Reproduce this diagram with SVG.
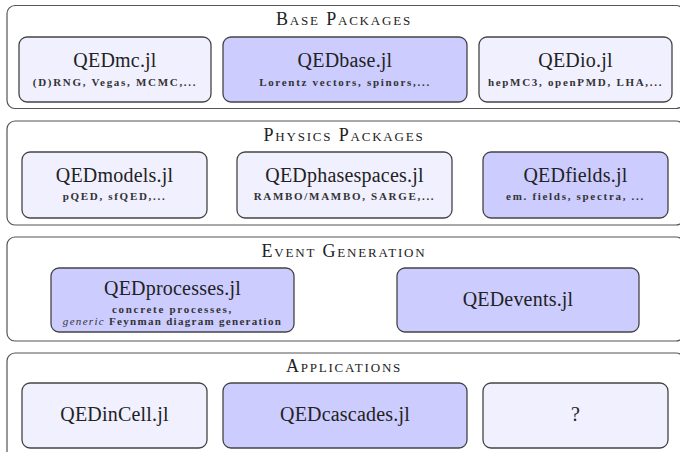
<svg xmlns="http://www.w3.org/2000/svg" width="680" height="452" viewBox="0 0 680 452">
<style>
.panel{fill:#ffffff;stroke:#555555;stroke-width:1.2}
.light{fill:#f0f0ff;stroke:#444444;stroke-width:1.3}
.dark{fill:#ccccff;stroke:#444444;stroke-width:1.3}
.head{font-family:"Liberation Serif",serif;font-size:18px;font-variant:small-caps;letter-spacing:1.8px;fill:#222;text-anchor:middle}
.name{font-family:"Liberation Serif",serif;font-size:20px;letter-spacing:0.2px;fill:#222;text-anchor:middle}
.sub{font-family:"Liberation Serif",serif;font-size:11px;font-weight:bold;letter-spacing:1.7px;fill:#333;text-anchor:middle}
</style>
<rect width="680" height="452" fill="#ffffff"/>
<g id="panel-base">
<rect class="panel" x="7" y="5.5" width="677" height="103" rx="8"/>
<text class="head" x="344" y="25">Base Packages</text>
</g>
<g id="panel-physics">
<rect class="panel" x="7" y="121" width="677" height="104" rx="8"/>
<text class="head" x="344" y="141">Physics Packages</text>
</g>
<g id="panel-event">
<rect class="panel" x="7" y="237" width="677" height="104" rx="8"/>
<text class="head" x="344" y="257">Event Generation</text>
</g>
<g id="panel-apps">
<rect class="panel" x="7" y="353" width="677" height="115" rx="8"/>
<text class="head" x="344" y="372">Applications</text>
</g>
<g id="QEDmc">
<rect class="light" x="19" y="37" width="192" height="65" rx="8"/>
<text class="name" x="115" y="67">QEDmc.jl</text>
<text class="sub" x="115" y="86">(D)RNG, Vegas, MCMC,...</text>
</g>
<g id="QEDbase">
<rect class="dark" x="223" y="37" width="244" height="65" rx="8"/>
<text class="name" x="345" y="67">QEDbase.jl</text>
<text class="sub" x="345" y="86">Lorentz vectors, spinors,...</text>
</g>
<g id="QEDio">
<rect class="light" x="479" y="37" width="193" height="65" rx="8"/>
<text class="name" x="575.5" y="67">QEDio.jl</text>
<text class="sub" x="575.5" y="86">hepMC3, openPMD, LHA,...</text>
</g>
<g id="QEDmodels">
<rect class="light" x="22" y="152" width="185" height="66" rx="8"/>
<text class="name" x="114.5" y="182">QEDmodels.jl</text>
<text class="sub" x="114.5" y="200">pQED, sfQED,...</text>
</g>
<g id="QEDphasespaces">
<rect class="light" x="237" y="152" width="215" height="66" rx="8"/>
<text class="name" x="344.5" y="182">QEDphasespaces.jl</text>
<text class="sub" x="344.5" y="200">RAMBO/MAMBO, SARGE,...</text>
</g>
<g id="QEDfields">
<rect class="dark" x="483" y="152" width="185" height="66" rx="8"/>
<text class="name" x="575.5" y="182">QEDfields.jl</text>
<text class="sub" x="575.5" y="200">em. fields, spectra, ...</text>
</g>
<g id="QEDprocesses">
<rect class="dark" x="51" y="268" width="243" height="64" rx="8"/>
<text class="name" x="172.5" y="295">QEDprocesses.jl</text>
<text class="sub" x="172.5" y="313">concrete processes,</text>
<text class="sub" x="172.5" y="324.5" style="letter-spacing:1.3px"><tspan font-style="italic" font-weight="normal">generic</tspan> Feynman diagram generation</text>
</g>
<g id="QEDevents">
<rect class="dark" x="397" y="268" width="242" height="64" rx="8"/>
<text class="name" x="518" y="306">QEDevents.jl</text>
</g>
<g id="QEDinCell">
<rect class="light" x="22" y="383" width="185" height="65" rx="8"/>
<text class="name" x="114.5" y="421">QEDinCell.jl</text>
</g>
<g id="QEDcascades">
<rect class="dark" x="223" y="383" width="244" height="65" rx="8"/>
<text class="name" x="345" y="421">QEDcascades.jl</text>
</g>
<g id="unknown">
<rect class="light" x="483" y="383" width="185" height="65" rx="8"/>
<text class="name" x="575.5" y="421">?</text>
</g>
<g id="connectors"></g>
</svg>
